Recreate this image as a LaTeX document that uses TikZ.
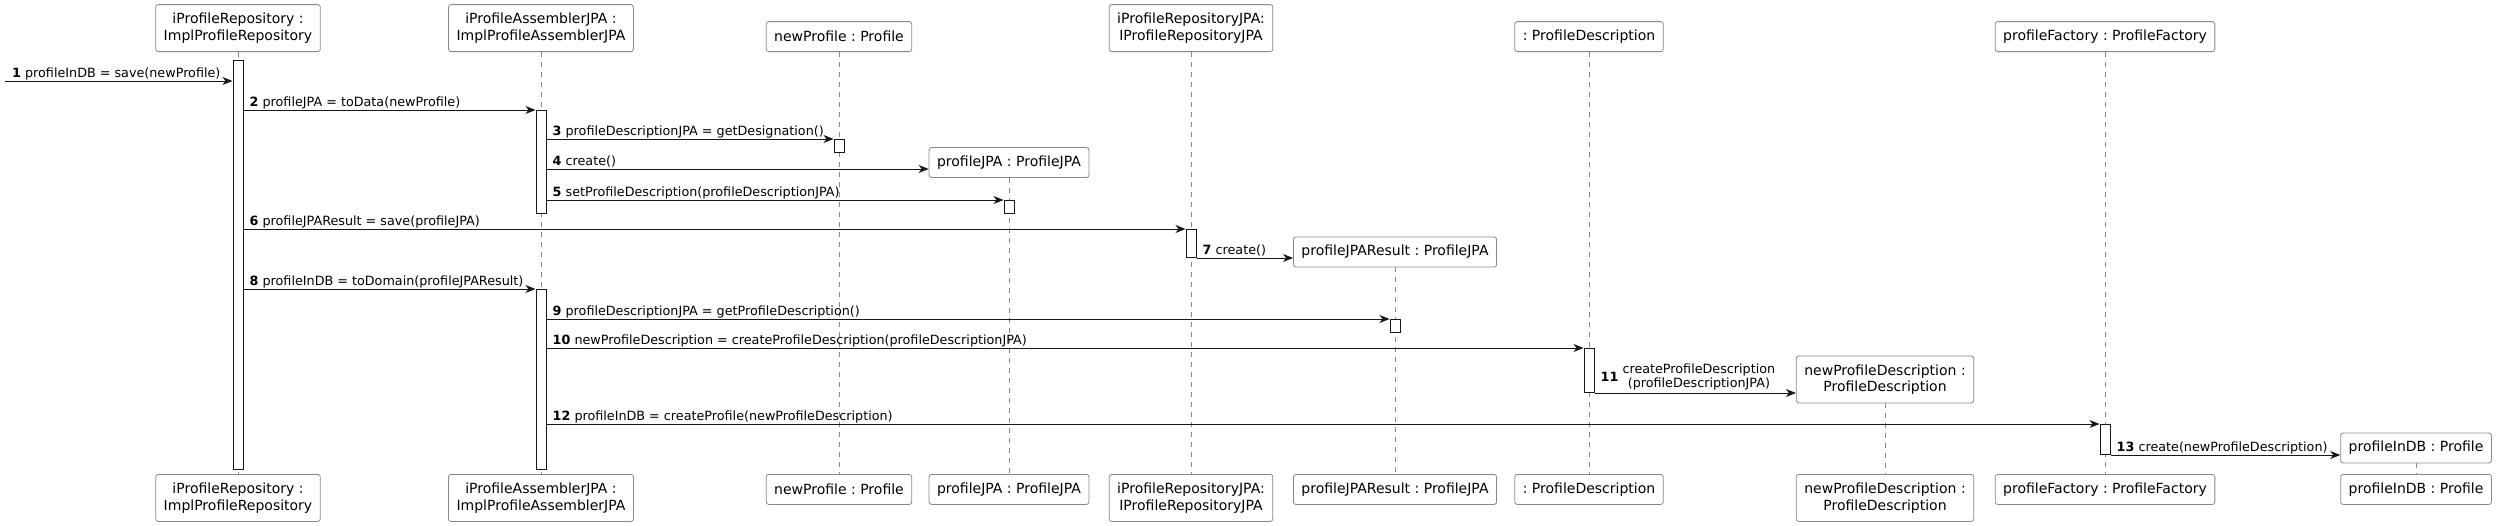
\documentclass[tikz,border=0pt]{standalone}
\usepackage{fontspec}
\setmainfont{DejaVu Sans}
\usetikzlibrary{calc, arrows.meta}

\definecolor{umlgray}{RGB}{136,136,136}
\definecolor{umlline}{RGB}{24,24,24}
\frenchspacing

\begin{document}
\begin{tikzpicture}[x=1pt, y=-1pt,
        every node/.style={font=\fontsize{12.75}{14}\selectfont},
        part/.style={draw=umlgray, line width=0.8pt, rounded corners=2.5pt, fill=white, align=center,
            inner xsep=8pt, inner ysep=4pt, minimum height=30pt, font=\fontsize{14}{16.5}\selectfont},
        twoline/.style={minimum height=47pt},
        life/.style={draw=umlgray, line width=0.8pt, dash pattern=on 5pt off 5pt},
        bar/.style={draw=umlline, line width=1pt, fill=white, minimum width=10pt, inner sep=0pt, anchor=north},
        msg/.style={draw=umlline, line width=1pt, -{Stealth[length=10pt, width=8pt, inset=3pt]}},
        lbl/.style={anchor=base west, inner sep=0pt}]
        \useasboundingbox (0,0) rectangle (2499,525);

        \node[part, twoline, anchor=south] (repo) at (238,52) {iProfileRepository :\\ImplProfileRepository};
        \node[part, twoline, anchor=south] (asm) at (541,52) {iProfileAssemblerJPA :\\ImplProfileAssemblerJPA};
        \node[part, anchor=south] (newp) at (839,52) {newProfile : Profile};
        \node[part, twoline, anchor=south] (repojpa) at (1191,52) {iProfileRepositoryJPA:\\IProfileRepositoryJPA};
        \node[part, anchor=south] (desc) at (1589,52) {: ProfileDescription};
        \node[part, anchor=south] (fact) at (2105,52) {profileFactory : ProfileFactory};

        \node[part] (pjpa) at (1009,162.5) {profileJPA : ProfileJPA};
        \node[part] (pres) at (1395,252) {profileJPAResult : ProfileJPA};
        \node[part, twoline] (ndesc) at (1885,379.5) {newProfileDescription :\\ProfileDescription};
        \node[part] (pdb) at (2416,448) {profileInDB : Profile};

        \node[part, twoline, anchor=north] (repo-b) at (238,474) {iProfileRepository :\\ImplProfileRepository};
        \node[part, twoline, anchor=north] (asm-b) at (541,474) {iProfileAssemblerJPA :\\ImplProfileAssemblerJPA};
        \node[part, anchor=north] (newp-b) at (839,474) {newProfile : Profile};
        \node[part, anchor=north] (pjpa-b) at (1009,474) {profileJPA : ProfileJPA};
        \node[part, twoline, anchor=north] (repojpa-b) at (1191,474) {iProfileRepositoryJPA:\\IProfileRepositoryJPA};
        \node[part, anchor=north] (pres-b) at (1395,474) {profileJPAResult : ProfileJPA};
        \node[part, anchor=north] (desc-b) at (1589,474) {: ProfileDescription};
        \node[part, twoline, anchor=north] (ndesc-b) at (1885,474) {newProfileDescription :\\ProfileDescription};
        \node[part, anchor=north] (fact-b) at (2105,474) {profileFactory : ProfileFactory};
        \node[part, anchor=north] (pdb-b) at (2416,474) {profileInDB : Profile};

        \foreach \p in {repo, asm, newp, pjpa, repojpa, pres, desc, ndesc, fact, pdb}
            \draw[life] (\p.south) -- (\p-b.north);

        \node[bar, minimum height=409pt] (b1) at (238,60) {};
        \node[bar, minimum height=103pt] (b2) at (541,110) {};
        \node[bar, minimum height=13pt] (b3) at (839,139) {};
        \node[bar, minimum height=13pt] (b4) at (1009,200) {};
        \node[bar, minimum height=28pt] (b5) at (1191,229) {};
        \node[bar, minimum height=180pt] (b6) at (541,289) {};
        \node[bar, minimum height=13pt] (b7) at (1395,319) {};
        \node[bar, minimum height=44pt] (b8) at (1589,348) {};
        \node[bar, minimum height=30pt] (b9) at (2105,424) {};

        \coordinate (start) at (5,81);
        \coordinate (m4) at (0,169);

        \draw[msg] (start) -- (b1.west |- start);
        \node[lbl] at ($(start)+(7,-4)$) {\textbf{1} profileInDB = save(newProfile)};
        \draw[msg] (b2.north west -| b1.east) -- (b2.north west);
        \node[lbl] at ($(b2.north west -| b1.east)+(6,-4)$) {\textbf{2} profileJPA = toData(newProfile)};
        \draw[msg] (b3.north west -| b2.east) -- (b3.north west);
        \node[lbl] at ($(b3.north west -| b2.east)+(6,-4)$) {\textbf{3} profileDescriptionJPA = getDesignation()};
        \draw[msg] (m4 -| b2.east) -- (m4 -| pjpa.west);
        \node[lbl] at ($(m4 -| b2.east)+(6,-4)$) {\textbf{4} create()};
        \draw[msg] (b4.north west -| b2.east) -- (b4.north west);
        \node[lbl] at ($(b4.north west -| b2.east)+(6,-4)$) {\textbf{5} setProfileDescription(profileDescriptionJPA)};
        \draw[msg] (b5.north west -| b1.east) -- (b5.north west);
        \node[lbl] at ($(b5.north west -| b1.east)+(6,-4)$) {\textbf{6} profileJPAResult = save(profileJPA)};
        \draw[msg] (b5.south east) -- (b5.south east -| pres.west);
        \node[lbl] at ($(b5.south east)+(6,-4)$) {\textbf{7} create()};
        \draw[msg] (b6.north west -| b1.east) -- (b6.north west);
        \node[lbl] at ($(b6.north west -| b1.east)+(6,-4)$) {\textbf{8} profileInDB = toDomain(profileJPAResult)};
        \draw[msg] (b7.north west -| b6.east) -- (b7.north west);
        \node[lbl] at ($(b7.north west -| b6.east)+(6,-4)$) {\textbf{9} profileDescriptionJPA = getProfileDescription()};
        \draw[msg] (b8.north west -| b6.east) -- (b8.north west);
        \node[lbl] at ($(b8.north west -| b6.east)+(6,-4)$) {\textbf{10} newProfileDescription = createProfileDescription(profileDescriptionJPA)};
        \draw[msg] (b8.south east) -- (b8.south east -| ndesc.west);
        \node[anchor=west, inner sep=0pt] at ($(b8.south east)+(6,-15)$) {\textbf{11}~\begin{tabular}{@{}c@{}}createProfileDescription\\(profileDescriptionJPA)\end{tabular}};
        \draw[msg] (b9.north west -| b6.east) -- (b9.north west);
        \node[lbl] at ($(b9.north west -| b6.east)+(6,-4)$) {\textbf{12} profileInDB = createProfile(newProfileDescription)};
        \draw[msg] (b9.south east) -- (b9.south east -| pdb.west);
        \node[lbl] at ($(b9.south east)+(6,-4)$) {\textbf{13} create(newProfileDescription)};
    \end{tikzpicture}
\end{document}
